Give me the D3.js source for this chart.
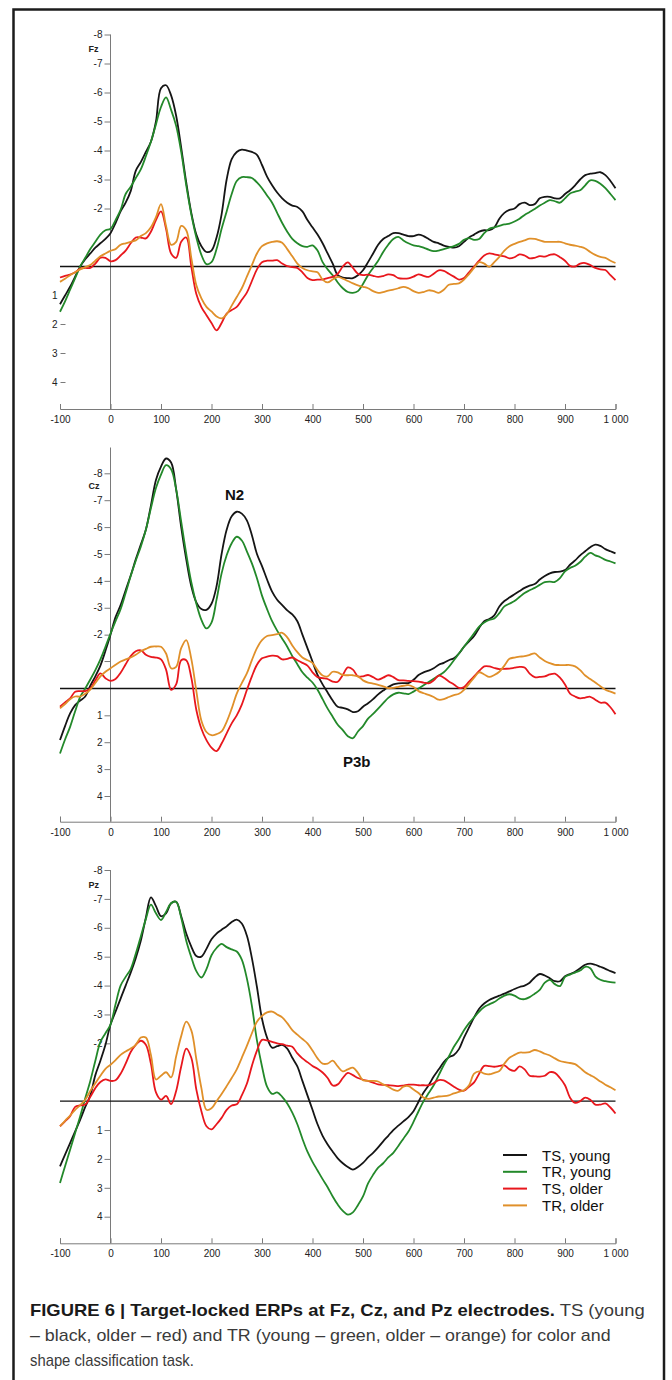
<!DOCTYPE html>
<html>
<head>
<meta charset="utf-8">
<script src="https://cdnjs.cloudflare.com/ajax/libs/d3/7.8.5/d3.min.js"></script>
<style>
body { margin: 0; background: #fff; }
svg text { font-family: "Liberation Sans", Arial, sans-serif; }
</style>
</head>
<body>
<svg id="fig" width="672" height="1380"></svg>
<script>
const AXIS_COLOR = '#7a7a7a';
const TEXT_COLOR = '#222';
const LINE_WIDTH = 1.8;

// sample grid, ms
const times = d3.range(-100, 1001, 10);
const seriesNames = ['TS, young', 'TR, young', 'TS, older', 'TR, older'];
const seriesColors = ['#151515', '#23892a', '#e8171d', '#e0902a'];
const xTicks = [-100, 0, 100, 200, 300, 400, 500, 600, 700, 800, 900, 1000];
const xTickLabels = ['-100', '0', '100', '200', '300', '400', '500', '600', '700', '800', '900', '1 000'];
const yTicksNeg = [-8, -7, -6, -5, -4, -3, -2];
const yTicksPos = [1, 2, 3, 4];

// Fz, uV
const fzTSyoung = [1.3, 1.0, 0.7, 0.35, 0.0, -0.25, -0.45, -0.65, -0.8, -0.95,
  -1.15, -1.5, -1.9, -2.2, -2.6, -3.3, -3.6, -3.95, -4.3, -5.0,
  -6.15, -6.25, -5.9, -5.2, -4.1, -2.9, -1.85, -1.1, -0.7, -0.5,
  -0.55, -1.0, -1.8, -3.0, -3.7, -3.95, -4.03, -4.0, -3.95, -3.85,
  -3.5, -3.1, -2.8, -2.55, -2.35, -2.2, -2.1, -2.05, -1.9, -1.6,
  -1.35, -1.1, -0.8, -0.45, -0.1, 0.3, 0.38, 0.4, 0.4, 0.3,
  0.13, -0.15, -0.45, -0.75, -0.95, -1.05, -1.15, -1.15, -1.1, -1.05,
  -1.05, -1.1, -1.05, -0.95, -0.85, -0.8, -0.72, -0.68, -0.65, -0.7,
  -0.85, -1.0, -1.1, -1.2, -1.25, -1.25, -1.35, -1.65, -1.85, -1.95,
  -2.0, -2.15, -2.2, -2.12, -2.15, -2.35, -2.4, -2.4, -2.35, -2.35,
  -2.5, -2.63, -2.8, -3.0, -3.15, -3.2, -3.22, -3.25, -3.15, -2.95,
  -2.7];
const fzTRyoung = [1.56, 1.2, 0.8, 0.4, 0.0, -0.3, -0.6, -0.85, -1.1, -1.25,
  -1.3, -1.6, -1.95, -2.5, -2.75, -3.05, -3.35, -3.8, -4.3, -4.9,
  -5.5, -5.83, -5.4, -4.85, -3.95, -2.8, -1.8, -1.0, -0.4, -0.08,
  -0.15, -0.6, -1.3, -1.9, -2.5, -2.95, -3.08, -3.08, -3.05, -2.9,
  -2.7, -2.45, -2.2, -1.85, -1.5, -1.2, -0.95, -0.8, -0.7, -0.68,
  -0.73, -0.55, -0.15, 0.1, 0.3, 0.55, 0.75, 0.88, 0.91, 0.85,
  0.6, 0.3, 0.05, -0.2, -0.5, -0.75, -0.95, -1.02, -0.9, -0.8,
  -0.73, -0.7, -0.65, -0.58, -0.53, -0.55, -0.6, -0.65, -0.7, -0.78,
  -0.92, -0.98, -0.92, -0.95, -1.15, -1.3, -1.35, -1.4, -1.45, -1.48,
  -1.55, -1.65, -1.78, -1.88, -1.98, -2.1, -2.2, -2.29, -2.25, -2.2,
  -2.35, -2.52, -2.58, -2.63, -2.8, -2.97, -2.95, -2.85, -2.7, -2.5,
  -2.29];
const fzTSolder = [0.38, 0.32, 0.28, 0.2, 0.07, 0.05, 0.05, -0.1, -0.3, -0.3,
  -0.18, -0.22, -0.38, -0.55, -0.8, -1.0, -1.0, -0.97, -1.2, -1.6,
  -1.9, -1.3, -0.45, -0.3, -0.85, -1.0, 0.0, 0.95, 1.4, 1.68,
  1.95, 2.2, 1.95, 1.62, 1.5, 1.39, 1.15, 0.9, 0.5, 0.1,
  -0.15, -0.2, -0.2, -0.22, -0.1, -0.01, 0.02, 0.05, 0.2, 0.4,
  0.47, 0.45, 0.45, 0.4, 0.36, 0.25, 0.0, -0.14, 0.05, 0.25,
  0.3, 0.28, 0.32, 0.36, 0.33, 0.27, 0.3, 0.4, 0.42, 0.41,
  0.35, 0.27, 0.32, 0.36, 0.25, 0.13, 0.15, 0.25, 0.35, 0.45,
  0.4, 0.2, 0.0, -0.2, -0.38, -0.45, -0.42, -0.38, -0.35, -0.28,
  -0.32, -0.42, -0.38, -0.28, -0.3, -0.36, -0.34, -0.4, -0.42, -0.32,
  -0.2, -0.02, 0.0, -0.1, -0.12, -0.05, 0.05, 0.1, 0.12, 0.3,
  0.47];
const fzTRolder = [0.53, 0.42, 0.3, 0.2, 0.1, 0.02, -0.05, -0.2, -0.35, -0.45,
  -0.54, -0.6, -0.75, -0.8, -0.85, -0.9, -1.05, -1.15, -1.35, -1.7,
  -2.15, -1.4, -0.75, -0.85, -1.4, -1.25, -0.3, 0.65, 1.1, 1.39,
  1.55, 1.72, 1.79, 1.65, 1.35, 1.05, 0.75, 0.35, -0.05, -0.45,
  -0.7, -0.8, -0.85, -0.87, -0.82, -0.6, -0.35, -0.1, 0.05, 0.13,
  0.17, 0.2, 0.45, 0.55, 0.45, 0.36, 0.42, 0.5, 0.58, 0.65,
  0.7, 0.75, 0.85, 0.91, 0.88, 0.83, 0.8, 0.75, 0.7, 0.75,
  0.85, 0.91, 0.88, 0.82, 0.85, 0.91, 0.8, 0.63, 0.6, 0.58,
  0.45, 0.26, 0.05, -0.15, -0.1, 0.01, -0.15, -0.33, -0.55, -0.7,
  -0.78, -0.85, -0.9, -0.96, -0.95, -0.9, -0.85, -0.85, -0.85, -0.85,
  -0.8, -0.75, -0.72, -0.68, -0.62, -0.5, -0.4, -0.33, -0.3, -0.2,
  -0.12];

// Cz, uV
const czTSyoung = [1.92, 1.4, 0.93, 0.62, 0.45, 0.3, -0.1, -0.45, -0.85, -1.4,
  -2.0, -2.65, -3.1, -3.65, -4.2, -4.8, -5.35, -5.9, -6.8, -7.75,
  -8.25, -8.55, -8.4, -7.4, -6.0, -4.8, -3.8, -3.2, -2.95, -2.92,
  -3.15, -3.8, -5.0, -5.9, -6.4, -6.57, -6.5, -6.25, -5.7, -5.0,
  -4.55, -4.05, -3.6, -3.3, -3.1, -2.9, -2.75, -2.5, -2.0, -1.5,
  -1.0, -0.5, -0.15, 0.15, 0.45, 0.68, 0.72, 0.78, 0.88, 0.85,
  0.68, 0.55, 0.4, 0.22, 0.08, -0.05, -0.15, -0.19, -0.2, -0.2,
  -0.32, -0.5, -0.6, -0.66, -0.75, -0.88, -0.95, -1.05, -1.12, -1.3,
  -1.55, -1.75, -1.95, -2.25, -2.5, -2.58, -2.72, -3.05, -3.25, -3.38,
  -3.5, -3.62, -3.74, -3.82, -3.88, -4.05, -4.18, -4.28, -4.33, -4.34,
  -4.4, -4.6, -4.76, -4.95, -5.1, -5.25, -5.35, -5.3, -5.18, -5.1,
  -5.02];
const czTRyoung = [2.42, 1.9, 1.43, 0.85, 0.31, 0.0, -0.33, -0.68, -1.08, -1.55,
  -2.04, -2.5, -2.95, -3.55, -4.18, -4.75, -5.27, -5.9, -6.7, -7.45,
  -7.95, -8.3, -8.15, -7.4, -6.2, -5.0, -3.95, -3.15, -2.55, -2.23,
  -2.45, -3.3, -4.28, -4.95, -5.4, -5.64, -5.5, -5.1, -4.65, -4.1,
  -3.45, -2.95, -2.5, -2.15, -1.85, -1.55, -1.2, -0.9, -0.6, -0.4,
  -0.22, 0.05, 0.4, 0.75, 1.05, 1.35, 1.55, 1.78, 1.85, 1.6,
  1.4, 1.12, 0.95, 0.75, 0.55, 0.35, 0.22, 0.16, 0.18, 0.21,
  0.12, 0.0, -0.12, -0.24, -0.36, -0.48, -0.6, -0.8, -1.05, -1.3,
  -1.55, -1.8, -2.05, -2.3, -2.45, -2.55, -2.6, -2.8, -3.05, -3.15,
  -3.25, -3.4, -3.55, -3.65, -3.74, -3.85, -3.95, -3.97, -3.96, -4.1,
  -4.35, -4.48, -4.56, -4.7, -4.9, -5.04, -4.95, -4.88, -4.78, -4.72,
  -4.65];
const czTSolder = [0.68, 0.52, 0.37, 0.12, 0.1, 0.1, 0.0, -0.3, -0.56, -0.38,
  -0.28, -0.35, -0.58, -0.9, -1.2, -1.38, -1.42, -1.25, -1.17, -1.15,
  -1.08, -0.7, 0.05, -0.15, -1.05, -1.05, -0.4, 0.8, 1.5, 1.92,
  2.2, 2.33, 2.05, 1.67, 1.3, 1.0, 0.6, 0.06, -0.45, -0.88,
  -1.12, -1.18, -1.22, -1.2, -1.08, -1.1, -1.15, -1.05, -0.95, -0.85,
  -0.6, -0.42, -0.38, -0.35, -0.25, -0.25, -0.5, -0.78, -0.7, -0.45,
  -0.45, -0.5, -0.42, -0.33, -0.4, -0.49, -0.42, -0.31, -0.3, -0.28,
  -0.27, -0.25, -0.22, -0.19, -0.3, -0.48, -0.4, -0.26, -0.15, -0.02,
  -0.05, -0.25, -0.45, -0.65, -0.82, -0.82, -0.76, -0.72, -0.73, -0.74,
  -0.77, -0.8, -0.78, -0.55, -0.42, -0.43, -0.45, -0.52, -0.55, -0.4,
  -0.15, 0.19, 0.3, 0.37, 0.34, 0.31, 0.42, 0.53, 0.53, 0.7,
  0.96];
const czTRolder = [0.74, 0.58, 0.4, 0.3, 0.3, 0.2, 0.04, -0.2, -0.45, -0.62,
  -0.75, -0.88, -1.0, -1.08, -1.15, -1.25, -1.38, -1.47, -1.55, -1.56,
  -1.55, -1.3, -0.75, -0.8, -1.5, -1.8, -1.1, 0.1, 1.2, 1.62,
  1.74, 1.7, 1.6, 1.24, 0.75, 0.19, -0.2, -0.56, -1.05, -1.5,
  -1.8, -1.95, -1.98, -2.02, -2.07, -1.9, -1.6, -1.35, -1.15, -1.05,
  -0.95, -0.68, -0.48, -0.45, -0.62, -0.6, -0.5, -0.49, -0.49, -0.45,
  -0.3, -0.22, -0.18, -0.13, -0.08, -0.01, -0.02, -0.06, -0.1, -0.12,
  -0.05, 0.1, 0.18, 0.24, 0.32, 0.42, 0.4, 0.32, 0.25, 0.2,
  0.05, -0.17, -0.4, -0.6, -0.52, -0.43, -0.5, -0.62, -0.85, -1.1,
  -1.15, -1.18, -1.2, -1.25, -1.3, -1.15, -1.02, -0.94, -0.88, -0.87,
  -0.87, -0.87, -0.82, -0.68, -0.48, -0.35, -0.22, -0.08, 0.05, 0.12,
  0.19];

// Pz, uV
const pzTSyoung = [2.26, 1.85, 1.45, 1.05, 0.64, 0.2, -0.2, -0.9, -1.4, -1.95,
  -2.65, -3.1, -3.55, -4.0, -4.45, -4.95, -5.55, -6.35, -7.05, -6.75,
  -6.4, -6.5, -6.85, -6.9, -6.4, -5.8, -5.35, -5.02, -5.0, -5.27,
  -5.6, -5.8, -5.93, -6.05, -6.2, -6.28, -6.15, -5.73, -4.95, -3.95,
  -2.85, -2.2, -1.85, -1.9, -1.95, -1.82, -1.5, -1.2, -0.7, -0.2,
  0.3, 0.8, 1.2, 1.5, 1.75, 1.98, 2.15, 2.28, 2.37, 2.28,
  2.14, 1.95, 1.79, 1.6, 1.39, 1.2, 1.0, 0.85, 0.7, 0.55,
  0.35, 0.02, -0.3, -0.55, -0.85, -1.1, -1.35, -1.52, -1.6, -1.8,
  -2.2, -2.55, -2.9, -3.2, -3.38, -3.5, -3.58, -3.65, -3.72, -3.8,
  -3.88, -3.95, -4.0, -4.1, -4.28, -4.4, -4.35, -4.25, -4.15, -4.15,
  -4.32, -4.4, -4.48, -4.6, -4.72, -4.76, -4.72, -4.65, -4.58, -4.5,
  -4.43];
const pzTRyoung = [2.83, 2.25, 1.68, 1.1, 0.52, -0.1, -0.7, -1.4, -2.05, -2.35,
  -2.65, -3.35, -4.0, -4.3, -4.57, -5.1, -5.7, -6.3, -6.8, -6.5,
  -6.27, -6.55, -6.85, -6.9, -6.35, -5.55, -4.98, -4.5, -4.28, -4.57,
  -5.05, -5.3, -5.44, -5.33, -5.25, -5.18, -4.9, -4.25, -3.3, -2.1,
  -1.2, -0.5, -0.25, -0.3, -0.15, 0.08, 0.4, 0.8, 1.3, 1.75,
  2.1, 2.4, 2.7, 2.98, 3.3, 3.58, 3.8, 3.93, 3.85, 3.6,
  3.3, 2.85, 2.55, 2.3, 2.15, 1.95, 1.79, 1.55, 1.3, 1.05,
  0.72, 0.35, 0.0, -0.28, -0.55, -0.9, -1.25, -1.55, -1.88, -2.15,
  -2.45, -2.7, -2.9, -3.1, -3.26, -3.35, -3.43, -3.55, -3.65, -3.7,
  -3.65, -3.55, -3.53, -3.6, -3.72, -3.85, -4.1, -4.2, -4.05, -3.98,
  -4.3, -4.38, -4.45, -4.52, -4.65, -4.6, -4.32, -4.2, -4.15, -4.12,
  -4.1];
const pzTSolder = [0.87, 0.7, 0.52, 0.2, 0.15, 0.12, -0.15, -0.45, -0.66, -0.75,
  -0.7, -0.72, -0.95, -1.3, -1.7, -1.95, -2.09, -1.95, -1.3, -0.3,
  -0.05, -0.18, 0.1, -0.35, -1.2, -1.82, -1.5, -0.4, 0.35, 0.87,
  0.98, 0.8, 0.58, 0.3, 0.15, 0.11, -0.2, -0.6, -1.22, -1.75,
  -2.12, -2.1, -2.05, -2.0, -1.97, -1.92, -1.88, -1.65, -1.48, -1.35,
  -1.22, -1.12, -0.99, -0.8, -0.54, -0.58, -0.8, -0.98, -0.9, -0.8,
  -0.74, -0.7, -0.64, -0.58, -0.56, -0.55, -0.54, -0.52, -0.54, -0.57,
  -0.57, -0.55, -0.55, -0.55, -0.62, -0.73, -0.72, -0.62, -0.5, -0.4,
  -0.36, -0.5, -0.65, -0.95, -1.22, -1.21, -1.19, -1.22, -1.24, -1.1,
  -1.05, -1.2, -1.1, -0.88, -0.86, -0.85, -0.88, -1.0, -0.98, -0.8,
  -0.55, -0.12, 0.06, 0.0, -0.12, -0.05, 0.12, 0.12, 0.08, 0.22,
  0.43];
const pzTRolder = [0.87, 0.68, 0.5, 0.3, 0.14, -0.05, -0.35, -0.62, -0.88, -1.12,
  -1.26, -1.42, -1.6, -1.72, -1.82, -1.95, -2.2, -2.2, -1.6, -0.75,
  -0.88, -1.0, -0.82, -1.55, -2.25, -2.75, -2.45, -1.45, -0.45, 0.3,
  0.25, 0.0, -0.25, -0.52, -0.8, -1.1, -1.5, -1.91, -2.35, -2.75,
  -2.95, -3.07, -3.1, -3.0, -2.9, -2.7, -2.46, -2.3, -2.15, -2.0,
  -1.75, -1.48, -1.3, -1.3, -1.4, -1.2, -1.03, -1.1, -1.16, -0.98,
  -0.72, -0.7, -0.7, -0.68, -0.58, -0.5, -0.4, -0.36, -0.5, -0.52,
  -0.4, -0.28, -0.12, -0.08, -0.12, -0.16, -0.17, -0.2, -0.27, -0.32,
  -0.38, -0.55, -0.95, -1.03, -0.95, -0.93, -0.98, -1.04, -1.3, -1.5,
  -1.6, -1.68, -1.68, -1.7, -1.77, -1.72, -1.64, -1.58, -1.48, -1.39,
  -1.35, -1.32, -1.28, -1.15, -1.0, -0.9, -0.8, -0.68, -0.57, -0.48,
  -0.38];

var svg = d3.select('#fig');

// outer frame of the figure box
svg.append('rect')
  .attr('x', 13.5).attr('y', 9.5)
  .attr('width', 650.5).attr('height', 1400)
  .attr('fill', 'none')
  .attr('stroke', '#1c1c1c')
  .attr('stroke-width', 2.5);

var x = d3.scaleLinear().domain([-100, 1000]).range([60, 615.5]);

var panels = [
  {name: 'Fz', series: [fzTSyoung, fzTRyoung, fzTSolder, fzTRolder],
   yRange: [34.5, 382.5], axisTop: 34.5, axisY: 409, labelY: 52, posFar: true, minusOne: false},
  {name: 'Cz', series: [czTSyoung, czTRyoung, czTSolder, czTRolder],
   yRange: [473.3, 796], axisTop: 447.5, axisY: 821.7, labelY: 488.5, posFar: false, minusOne: true},
  {name: 'Pz', series: [pzTSyoung, pzTRyoung, pzTSolder, pzTRolder],
   yRange: [870, 1216.7], axisTop: 870, axisY: 1243.3, labelY: 887.5, posFar: false, minusOne: false}
];

panels.forEach(drawPanel);

function drawPanel(p) {
  var y = d3.scaleLinear().domain([-8, 4]).range(p.yRange);
  var g = svg.append('g');

  // x axis, ticks pointing up
  var xAxis = d3.axisBottom(x)
    .tickValues(xTicks)
    .tickFormat(function(d, i) { return xTickLabels[i]; })
    .tickSize(-5)
    .tickPadding(7);
  var gx = g.append('g')
    .attr('transform', 'translate(0,' + p.axisY + ')')
    .call(xAxis);
  styleAxis(gx);

  // y axis at stimulus onset
  g.append('line')
    .attr('x1', x(0)).attr('x2', x(0))
    .attr('y1', p.axisTop).attr('y2', p.axisY)
    .attr('stroke', AXIS_COLOR).attr('stroke-width', 1);

  var leftTicks = p.posFar ? yTicksNeg : yTicksNeg.concat(yTicksPos);
  var yAxis = d3.axisLeft(y)
    .tickValues(leftTicks)
    .tickFormat(function(d) { return String(d); })
    .tickSize(6)
    .tickPadding(2);
  var gy = g.append('g')
    .attr('transform', 'translate(' + x(0) + ',0)')
    .call(yAxis);
  gy.select('.domain').remove();
  styleAxis(gy);

  if (p.minusOne) {
    g.append('line')
      .attr('x1', x(0) - 6).attr('x2', x(0))
      .attr('y1', y(-1)).attr('y2', y(-1))
      .attr('stroke', AXIS_COLOR);
  }

  // Fz: positive labels sit out at the left edge
  if (p.posFar) {
    yTicksPos.forEach(function(v) {
      g.append('text')
        .attr('x', 57.5).attr('y', y(v) + 3.5)
        .attr('text-anchor', 'end')
        .style('font-size', '10px')
        .attr('fill', TEXT_COLOR)
        .text(v);
      if (v > 1) {
        g.append('line')
          .attr('x1', 60.5).attr('x2', 65.5)
          .attr('y1', y(v)).attr('y2', y(v))
          .attr('stroke', AXIS_COLOR);
      }
    });
  }

  // zero line
  g.append('line')
    .attr('x1', x(-100)).attr('x2', x(1000))
    .attr('y1', y(0)).attr('y2', y(0))
    .attr('stroke', '#111').attr('stroke-width', 1.4);

  g.append('text')
    .attr('x', 88.5).attr('y', p.labelY)
    .style('font-size', '9px')
    .style('font-weight', 'bold')
    .attr('fill', TEXT_COLOR)
    .text(p.name);

  var line = d3.line()
    .x(function(d, i) { return x(times[i]); })
    .y(function(d) { return y(d); })
    .curve(d3.curveCatmullRom.alpha(0.5));

  p.series.forEach(function(s, k) {
    g.append('path')
      .datum(s)
      .attr('d', line)
      .attr('fill', 'none')
      .attr('stroke', seriesColors[k])
      .attr('stroke-width', LINE_WIDTH)
      .attr('stroke-linejoin', 'round');
  });
}

function styleAxis(ga) {
  ga.attr('font-family', null).attr('font-size', null);
  ga.selectAll('.domain').attr('stroke', AXIS_COLOR);
  ga.selectAll('.tick line').attr('stroke', AXIS_COLOR);
  ga.selectAll('.tick text')
    .style('font-size', '10px')
    .attr('fill', TEXT_COLOR);
}

// component labels on Cz
svg.append('text')
  .attr('x', 225).attr('y', 500)
  .style('font-size', '15px').style('font-weight', 'bold')
  .attr('fill', '#111')
  .text('N2');
svg.append('text')
  .attr('x', 343).attr('y', 767)
  .style('font-size', '15px').style('font-weight', 'bold')
  .attr('fill', '#111')
  .text('P3b');

// legend
var legend = svg.append('g');
seriesNames.forEach(function(name, k) {
  var ly = 1155 + k * 16.8;
  legend.append('line')
    .attr('x1', 503).attr('x2', 527)
    .attr('y1', ly).attr('y2', ly)
    .attr('stroke', seriesColors[k])
    .attr('stroke-width', 2);
  legend.append('text')
    .attr('x', 542).attr('y', ly + 5.5)
    .style('font-size', '15px')
    .attr('fill', '#111')
    .text(name);
});

// caption, lines squeezed to the width they have in the figure
var captionLines = [
  {bold: 'FIGURE 6 | Target-locked ERPs at Fz, Cz, and Pz electrodes.', rest: ' TS (young', y: 1316, w: 615},
  {bold: '', rest: '\u2013 black, older \u2013 red) and TR (young \u2013 green, older \u2013 orange) for color and', y: 1341, w: 581},
  {bold: '', rest: 'shape classification task.', y: 1366, w: 164}
];
captionLines.forEach(function(c) {
  var t = svg.append('text')
    .attr('x', 0).attr('y', 0)
    .style('font-size', '16px');
  if (c.bold) {
    t.append('tspan').style('font-weight', 'bold').attr('fill', '#1a1a1a').text(c.bold);
  }
  t.append('tspan').attr('fill', '#3a3a3a').text(c.rest);
  var len = t.node().getComputedTextLength();
  t.attr('transform', 'translate(30,' + c.y + ') scale(' + (c.w / len) + ',1)');
});
</script>
</body>
</html>
